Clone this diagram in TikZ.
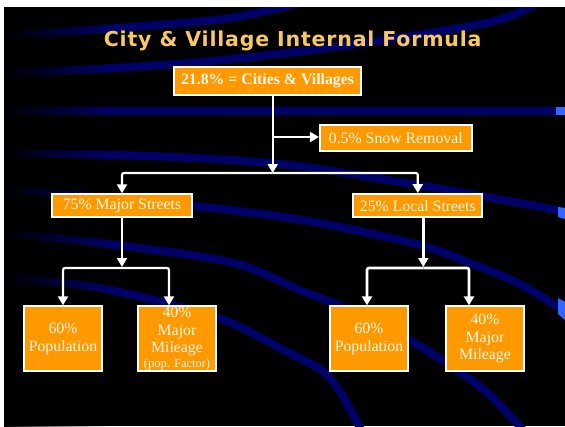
\documentclass[tikz,border=0pt]{standalone}
\usepackage{fontspec}
\setmainfont{Liberation Serif}
\newfontfamily\titlefont[LetterSpace=4]{DejaVu Sans}
\usetikzlibrary{arrows.meta,calc,fadings}
\definecolor{boxor}{HTML}{FF9900}
\definecolor{titlegold}{HTML}{F9C862}
\definecolor{swoosh}{RGB}{0,0,105}
\definecolor{brightblue}{HTML}{3366FF}
\definecolor{boxtext}{HTML}{FFF8EC}
\tikzfading[name=fadeR, left color=transparent!0, right color=transparent!100]
\begin{document}
\begin{tikzpicture}[x=1pt,y=-1pt,
  box/.style={draw=white, line width=2pt, fill=boxor, text=boxtext, inner sep=0pt,
    font=\fontsize{15.8}{17.5}\selectfont, align=center},
  conn/.style={draw=white, line width=2.2pt},
  arr/.style={conn, -{Triangle[length=9pt,width=10pt]}},
  band/.style={draw=swoosh, line width=8pt}]
\fill[white] (0,0) rectangle (565,426);
\fill[black] (4,7) rectangle (565,426);
\useasboundingbox (0,0) rectangle (565,426);
% background swooshes
\begin{scope}
\clip (4,7) rectangle (565,426);
\draw[band] plot[smooth] coordinates {(0,36) (90,30) (223,19) (305,2)};
\draw[band] plot[smooth] coordinates {(0,74) (190,63) (350,45) (490,22) (540,2)};
\draw[band] (0,111) -- (570,111);
\draw[band] plot[smooth] coordinates {(0,153) (150,156) (280,164) (400,182) (520,203) (575,214)};
\draw[band] plot[smooth] coordinates {(0,190) (100,197) (230,210) (320,223) (420,245) (470,263) (520,284) (575,318)};
\draw[band] plot[smooth] coordinates {(0,233) (100,243) (230,262) (300,290) (360,314) (410,340) (460,372) (490,395) (525,432)};
\draw[band] plot[smooth] coordinates {(0,277) (100,288) (216,317) (280,348) (324,372) (345,400) (362,432)};
\fill[brightblue] (556,107) rectangle (565,115);
\fill[brightblue] (558,207) -- (565,208) -- (565,219) -- (558,217) -- cycle;
\fill[brightblue] (558,298) -- (565,302) -- (565,320) -- (558,314) -- cycle;
\fill[black, path fading=fadeR] (3,6) rectangle (110,427);
\end{scope}
% title
\node[font=\titlefont\bfseries\fontsize{20.5}{22}\selectfont, text=titlegold, anchor=base, inner sep=0pt]
  (title) at (292.7,46.7) {City \& Village Internal Formula};
% boxes
\node[box, minimum width=187pt, minimum height=28pt, font=\bfseries\fontsize{15.8}{17.5}\selectfont]
  (top) at (267.5,81) {21.8\% = Cities \& Villages};
\node[box, minimum width=151.7pt, minimum height=26pt] (snow) at (395.8,138) {0.5\% Snow Removal};
\node[box, minimum width=140.6pt, minimum height=23pt] (major) at (122,205.8) {75\% Major Streets};
\node[box, minimum width=129pt, minimum height=23.3pt] (local) at (417.8,205.7) {25\% Local Streets};
\node[box, minimum width=78.6pt, minimum height=64.7pt] (pop1) at (63,338.7) {60\%\\Population};
\node[box, minimum width=78.6pt, minimum height=64.7pt] (mil1) at (177,338.7)
  {40\%\\Major\\Mileage\\[-3pt]{\fontsize{12.5}{13}\selectfont(pop. Factor)}};
\node[box, minimum width=78.6pt, minimum height=64.7pt] (pop2) at (369,338.7) {60\%\\Population};
\node[box, minimum width=78.6pt, minimum height=64.7pt] (mil2) at (485,338.7) {40\%\\Major\\Mileage};
% junctions
\coordinate (j1) at (272.7,173);
\coordinate (b1) at (272.7,137);
\coordinate (j2) at (122,268);
\coordinate (j3) at (423.3,268);
\path (mil1.north) ++(-8,0) coordinate (t2);
\path (pop2.north) ++(-2,0) coordinate (t3);
\path (mil2.north) ++(-16,0) coordinate (t4);
% connectors
\draw[conn] (top.south -| j1) -- (b1);
\draw[arr] (b1) -- (b1 -| snow.west);
\draw[arr] (b1) -- (j1);
\draw[arr, rounded corners=2pt] (j1) -| (major.north);
\draw[arr, rounded corners=2pt] (j1) -| (local.north);
\draw[arr] (major.south) -- ($(j2)+(0,-1)$);
\draw[arr, rounded corners=2pt] (j2) -| (pop1.north);
\draw[arr, rounded corners=2pt] (j2) -| (t2);
\draw[arr, line width=2.6pt] (local.south -| j3) -- ($(j3)+(0,-1)$);
\draw[arr, line width=2.6pt, rounded corners=2pt] (j3) -| (t3);
\draw[arr, line width=2.6pt, rounded corners=2pt] (j3) -| (t4);
\end{tikzpicture}
\end{document}
